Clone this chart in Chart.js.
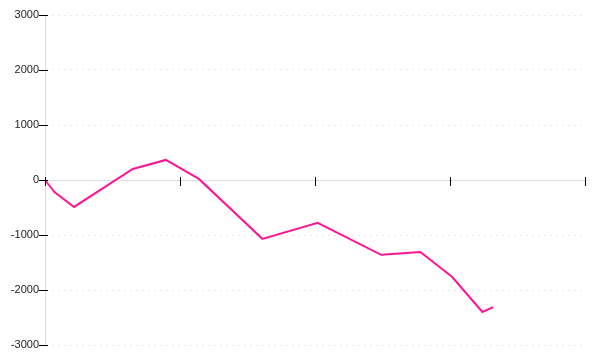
<!DOCTYPE html>
<html>
<head>
<meta charset="utf-8">
<script src="https://cdn.jsdelivr.net/npm/chart.js@4"></script>
<style>
  html, body { margin: 0; padding: 0; background: #fff; }
  #wrap { width: 600px; height: 360px; }
</style>
</head>
<body>
<div id="wrap"><canvas id="lineChart"></canvas></div>
<script>
// values
var xValues = [0, 0.7, 2.15, 6.5, 8.95, 11.4, 16.1, 20.2, 24.9, 27.8, 30.15, 32.4, 33.2];
var yValues = [0, -220, -490, 200, 365, 20, -1070, -780, -1360, -1310, -1760, -2400, -2310];
var yTicks = [-3000, -2000, -1000, 0, 1000, 2000, 3000];

var points = xValues.map(function (x, i) { return { x: x, y: yValues[i] }; });

// tick marks that cross the axis lines
var crossTicks = {
    id: 'crossTicks',
    afterDraw: function (chart) {
        var c = chart.ctx, xs = chart.scales.x, ys = chart.scales.y;
        var x0 = xs.getPixelForValue(0), y0 = ys.getPixelForValue(0);
        c.save();
        c.strokeStyle = '#000';
        c.lineWidth = 1;
        c.beginPath();
        yTicks.forEach(function (v) {
            var y = Math.round(ys.getPixelForValue(v)) + 0.5;
            c.moveTo(x0 - 6, y);
            c.lineTo(x0 + 3, y);
        });
        xs.ticks.forEach(function (t) {
            var x = Math.round(xs.getPixelForValue(t.value)) + 0.5;
            c.moveTo(x, y0 - 3);
            c.lineTo(x, y0 + 6);
        });
        c.stroke();
        c.restore();
    }
};

var ctx = document.getElementById('lineChart');
var myChart = new Chart(ctx, {
    type: 'line',
    data: {
        datasets: [{
            data: points,
            borderColor: '#ff1493',
            borderWidth: 2,
            pointRadius: 0,
            tension: 0,
            fill: false
        }]
    },
    options: {
        responsive: true,
        maintainAspectRatio: false,
        animation: false,
        layout: { padding: { top: 15, bottom: 15, right: 15, left: 0 } },
        plugins: { legend: { display: false }, tooltip: { enabled: false } },
        scales: {
            x: {
                type: 'linear',
                min: 0,
                max: 40,
                position: { y: 0 },
                ticks: { display: false, stepSize: 10 },
                grid: { display: false, drawTicks: false },
                border: { color: '#dddddd', width: 1 }
            },
            y: {
                min: -3000,
                max: 3000,
                afterFit: function (scale) { scale.width = 45; },
                afterBuildTicks: function (scale) {
                    scale.ticks = yTicks.map(function (v) { return { value: v }; });
                },
                ticks: {
                    padding: 0,
                    color: '#222',
                    font: { family: 'Liberation Sans', size: 11 },
                    callback: function (value) { return String(value); }
                },
                grid: {
                    color: '#e6e6e6',
                    tickColor: 'rgba(0,0,0,0)',
                    tickLength: 6,
                    tickBorderDash: []
                },
                border: { color: '#dddddd', width: 1, dash: [2, 4] }
            }
        }
    },
    plugins: [crossTicks]
});
</script>
</body>
</html>
